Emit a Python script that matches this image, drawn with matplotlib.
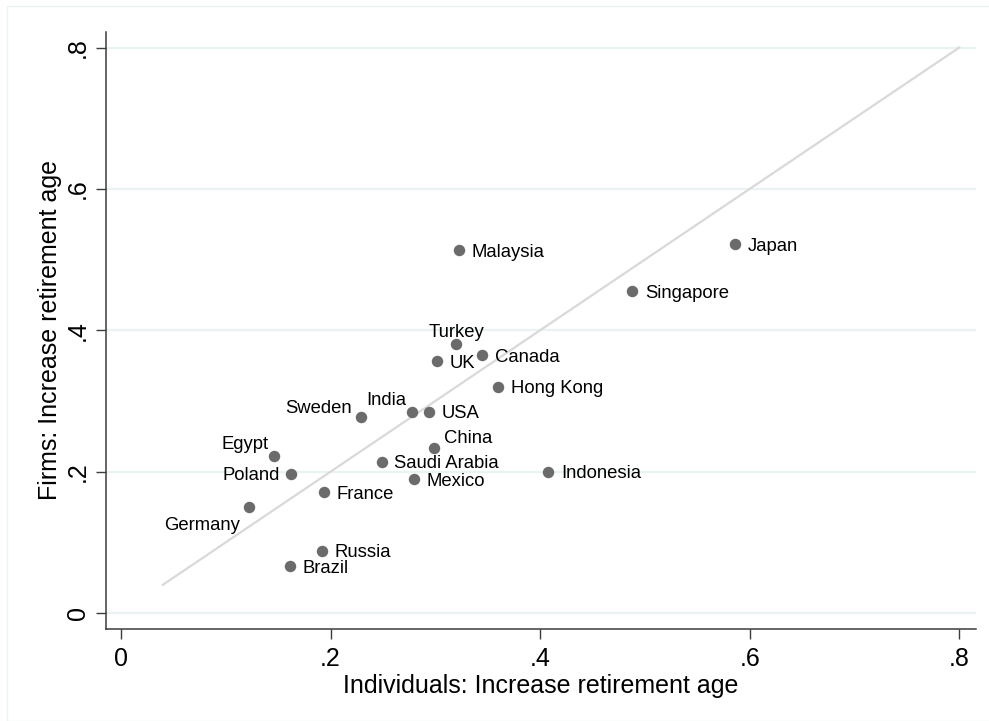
#!/usr/bin/env python
import matplotlib
matplotlib.use("Agg")
import matplotlib.pyplot as plt
from matplotlib.patches import Rectangle

countries = ["Malaysia", "Japan", "Singapore", "Turkey", "UK", "Canada",
             "Hong Kong", "Sweden", "India", "USA", "China", "Egypt",
             "Poland", "Saudi Arabia", "Mexico", "Indonesia", "France",
             "Germany", "Russia", "Brazil"]
individuals = [0.323, 0.586, 0.488, 0.320, 0.302, 0.345, 0.360, 0.229,
               0.278, 0.294, 0.299, 0.146, 0.162, 0.249, 0.280, 0.408,
               0.194, 0.122, 0.192, 0.161]
firms = [0.513, 0.522, 0.455, 0.380, 0.356, 0.365, 0.320, 0.278, 0.285,
         0.285, 0.234, 0.222, 0.197, 0.214, 0.189, 0.200, 0.171, 0.150,
         0.088, 0.066]
ticks = [0, 0.2, 0.4, 0.6, 0.8]
tick_labels = ["0", ".2", ".4", ".6", ".8"]
line_ends = [0.04, 0.8]

# marker label positions, clock style
clock = {"Sweden": 10, "India": 11, "Turkey": 12, "Egypt": 11, "Poland": 9,
         "Germany": 7, "China": 1}
placement = {
    3: ((9, 0), "left", "center_baseline"),
    12: ((0, 5), "center", "baseline"),
    11: ((-4, 5), "right", "baseline"),
    10: ((-6.5, 7), "right", "center_baseline"),
    9: ((-8, 0), "right", "center_baseline"),
    7: ((-6.5, -7), "right", "top"),
    1: ((7, 3), "left", "baseline"),
}

plt.rcParams["font.family"] = ["Liberation Sans", "DejaVu Sans"]

fig = plt.figure(figsize=(9.89, 7.21), dpi=100)
fig.patches.append(Rectangle((7 / 989, 0), 1, 1 - 6 / 721,
                             transform=fig.transFigure, fill=False,
                             edgecolor="#eef1f2", linewidth=1))
ax = fig.add_axes([105.7 / 989, 1 - 629 / 721, (976 - 105.7) / 989,
                   (629 - 32) / 721])

ax.set_xlim(-0.0146, 0.816)
ax.set_ylim(-0.0226, 0.822)

for t in ticks:
    ax.axhline(t, color="#eaf2f3", linewidth=1.6, zorder=0)

ax.plot(line_ends, line_ends, color="#d9d9d9", linewidth=1.6, zorder=1)
ax.scatter(individuals, firms, s=68, color="#6b6b6b", zorder=3,
           linewidths=0)

for name, x, y in zip(countries, individuals, firms):
    off, ha, va = placement[clock.get(name, 3)]
    ax.annotate(name, (x, y), xytext=off, textcoords="offset points",
                ha=ha, va=va, fontsize=13.3, color="black", zorder=4)

for side in ["top", "right"]:
    ax.spines[side].set_visible(False)
for side in ["left", "bottom"]:
    ax.spines[side].set_color("#3c3c3c")
    ax.spines[side].set_linewidth(1.1)

ax.set_xticks(ticks)
ax.set_xticklabels(tick_labels)
ax.set_yticks(ticks)
ax.set_yticklabels(tick_labels, rotation=90, va="center")
ax.tick_params(length=7, width=1, color="#3c3c3c", labelsize=18)
ax.tick_params(axis="x", pad=6)
ax.tick_params(axis="y", pad=4.5)

ax.set_xlabel("Individuals: Increase retirement age", fontsize=18,
              labelpad=2)
ax.set_ylabel("Firms: Increase retirement age", fontsize=18, labelpad=2.5)

plt.savefig("out.png", dpi=100)
